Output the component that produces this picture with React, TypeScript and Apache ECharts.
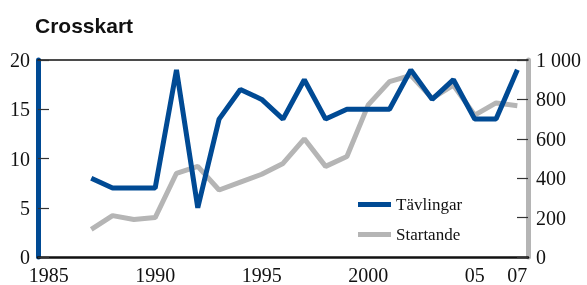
import React, { useEffect, useRef } from "react";
import * as echarts from "echarts";

const years = [
  "1985", "1986", "1987", "1988", "1989", "1990", "1991", "1992", "1993", "1994", "1995", "1996",
  "1997", "1998", "1999", "2000", "2001", "2002", "2003", "2004", "2005", "2006", "2007",
];
const tavlingar = [null, null, 8, 7, 7, 7, 19, 5, 14, 17, 16, 14, 18, 14, 15, 15, 15, 19, 16, 18, 14, 14, 19];
const startande = [null, null, 140, 210, 190, 200, 425, 460, 340, 380, 420, 475, 600, 460, 510, 772, 890, 922, 805, 872, 720, 782, 768];
const shownYears = ["1985", "1990", "1995", "2000", "2005", "2007"];
const shortYears: Record<string, string> = { "2005": "05", "2007": "07" };

const BLUE = "#004a94";
const GRAY = "#b5b5b5";
const SERIF = "Liberation Serif";

export default function App() {
  const ref = useRef<HTMLDivElement>(null);
  useEffect(() => {
    if (!ref.current) return;
    const chart = echarts.init(ref.current, null, { renderer: "svg" });
    chart.setOption({
      animation: false,
      title: {
        text: "Crosskart",
        left: 30,
        top: 10,
        textStyle: { fontFamily: "Liberation Sans", fontWeight: "bold", fontSize: 21, color: "#111" },
      },
      grid: { left: 38, right: 59, top: 60, bottom: 28 },
      legend: {
        orient: "vertical",
        left: 353,
        top: 190,
        icon: "rect",
        itemWidth: 33,
        itemHeight: 5,
        itemGap: 11,
        textStyle: { fontFamily: SERIF, fontSize: 17, color: "#111", lineHeight: 19, padding: [0, 0, 0, 0] },
        data: ["Tävlingar", "Startande"],
      },
      xAxis: [
        {
          type: "category",
          data: years,
          boundaryGap: true,
          axisLine: { show: true, lineStyle: { color: "#111", width: 2.5 } },
          axisTick: { show: false },
          axisLabel: {
            interval: (_i: number, v: string) => shownYears.includes(v),
            formatter: (v: string) => shortYears[v] ?? v,
            fontFamily: SERIF,
            fontSize: 20,
            color: "#111",
            margin: 8,
          },
        },
        {
          type: "category",
          data: years,
          position: "top",
          axisLine: { show: true, onZero: false, lineStyle: { color: "#111", width: 1.5 } },
          axisTick: { show: false },
          axisLabel: { show: false },
        },
      ],
      yAxis: [
        {
          type: "value",
          min: 0,
          max: 20,
          interval: 5,
          position: "left",
          axisLine: { show: true, lineStyle: { color: BLUE, width: 5 } },
          axisTick: { show: true, inside: true, length: 11, lineStyle: { color: "#333", width: 1.2 } },
          splitLine: { show: false },
          axisLabel: { fontFamily: SERIF, fontSize: 20, color: "#111", margin: 8 },
        },
        {
          type: "value",
          min: 0,
          max: 1000,
          interval: 200,
          position: "right",
          axisLine: { show: true, lineStyle: { color: GRAY, width: 5 } },
          axisTick: { show: true, inside: true, length: 11, lineStyle: { color: "#333", width: 1.2 } },
          splitLine: { show: false },
          axisLabel: {
            fontFamily: SERIF,
            fontSize: 20,
            color: "#111",
            margin: 8,
            formatter: (v: number) => (v >= 1000 ? "1 000" : String(v)),
          },
        },
      ],
      series: [
        {
          name: "Startande",
          type: "line",
          yAxisIndex: 1,
          data: startande,
          showSymbol: false,
          symbol: "none",
          lineStyle: { color: GRAY, width: 5 },
          itemStyle: { color: GRAY },
          z: 2,
        },
        {
          name: "Tävlingar",
          type: "line",
          yAxisIndex: 0,
          data: tavlingar,
          showSymbol: false,
          symbol: "none",
          lineStyle: { color: BLUE, width: 5 },
          itemStyle: { color: BLUE },
          z: 3,
        },
      ],
    });
    return () => chart.dispose();
  }, []);
  return (
    <div
      ref={ref}
      style={{ position: "fixed", left: 0, top: 0, width: 587, height: 285 }}
    />
  );
}
